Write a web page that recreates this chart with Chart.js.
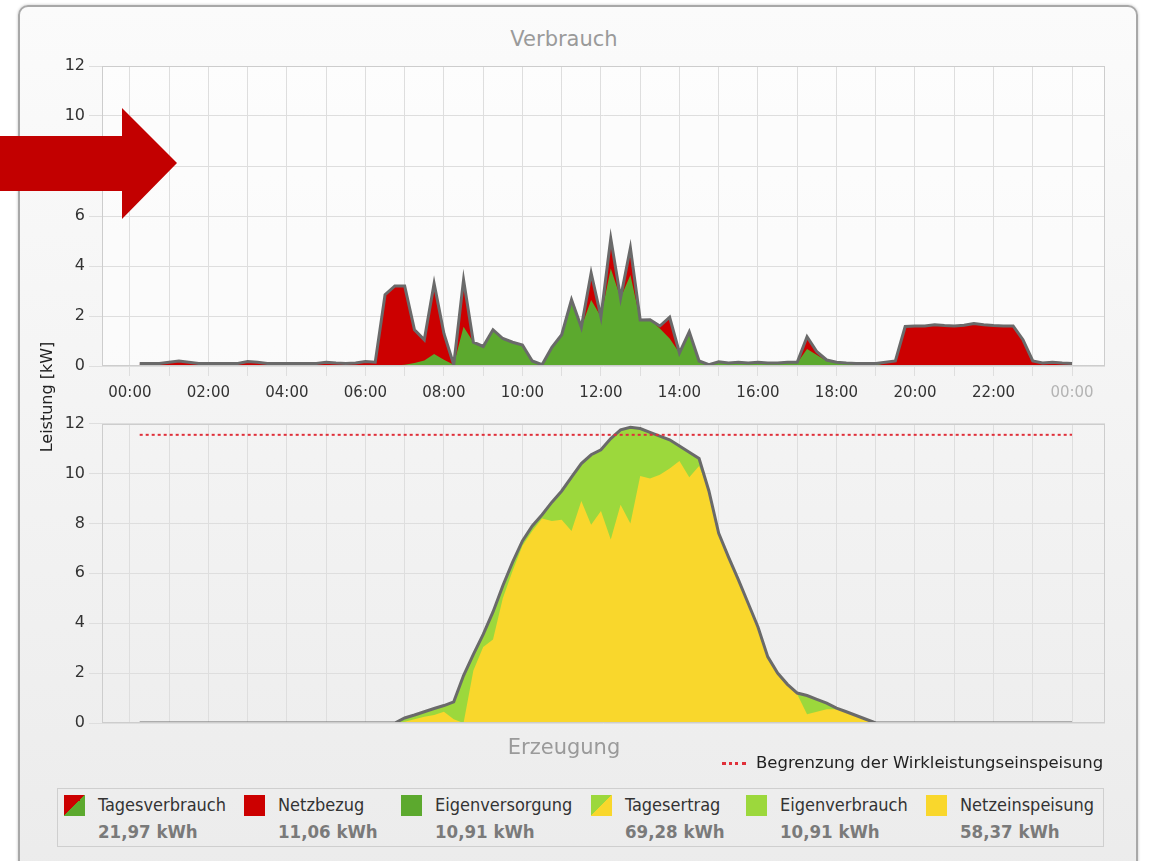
<!DOCTYPE html>
<html>
<head>
<meta charset="utf-8">
<script src="https://cdn.jsdelivr.net/npm/chart.js@4.4.1/dist/chart.umd.min.js"></script>
<style>
html, body { margin:0; padding:0; background:#fff; }
body { width:1155px; height:861px; position:relative; overflow:hidden; font-family:"DejaVu Sans", sans-serif; }
#panel { position:absolute; left:18px; top:5px; width:1116px; height:900px; border:2px solid #a8a8a8; border-radius:10px;
         background:linear-gradient(#fbfbfb, #ebebeb); box-shadow:0 0 3px rgba(0,0,0,.25); }
canvas { position:absolute; left:0; }
#verbrauch { top:0; }
#erzeugung { top:410px; }
.title { position:absolute; left:414px; width:300px; text-align:center; color:#9a9a9a; font-size:21px; }
#ylabel { position:absolute; left:-33px; top:387px; width:160px; height:20px; line-height:20px; text-align:center;
          font-size:16px; color:#222; transform:rotate(-90deg); }
#limit { position:absolute; left:722px; top:753px; font-size:16.5px; color:#222; white-space:nowrap; }
#limit i { display:inline-block; width:24px; border-top:3px dotted #e0303a; vertical-align:middle; margin-right:10px; }
#legend { position:absolute; left:57px; top:788px; width:1045px; height:57px; border:1px solid #cfcfcf; }
.item { position:absolute; top:6px; }
.sw { position:absolute; left:0; top:0; width:21px; height:21px; }
.lab { position:absolute; left:34px; top:-1px; font-family:"DejaVu Sans Condensed","Liberation Sans",sans-serif; font-size:18px; color:#333; white-space:nowrap; }
.val { position:absolute; left:34px; top:26px; font-family:"DejaVu Sans Condensed","Liberation Sans",sans-serif; font-weight:bold; font-size:18.5px; color:#7a7a7a; white-space:nowrap; }
#arrow { position:absolute; left:0; top:0; }
</style>
</head>
<body>
<div id="panel"></div>
<div class="title" style="top:27px">Verbrauch</div>
<canvas id="verbrauch" width="1155" height="410"></canvas>
<canvas id="erzeugung" width="1155" height="370"></canvas>
<div class="title" style="top:735px">Erzeugung</div>
<div id="ylabel">Leistung [kW]</div>
<div id="limit"><i></i>Begrenzung der Wirkleistungseinspeisung</div>
<div id="legend">
  <div class="item" style="left:6px"><span class="sw" style="background:linear-gradient(to bottom right,#cc0000 50%,#5ca92e 50%)"></span><span class="lab">Tagesverbrauch</span><span class="val">21,97 kWh</span></div>
  <div class="item" style="left:186px"><span class="sw" style="background:#cc0000"></span><span class="lab">Netzbezug</span><span class="val">11,06 kWh</span></div>
  <div class="item" style="left:343px"><span class="sw" style="background:#5ca92e"></span><span class="lab">Eigenversorgung</span><span class="val">10,91 kWh</span></div>
  <div class="item" style="left:533px"><span class="sw" style="background:linear-gradient(to bottom right,#9cd83c 50%,#f9d72c 50%)"></span><span class="lab">Tagesertrag</span><span class="val">69,28 kWh</span></div>
  <div class="item" style="left:688px"><span class="sw" style="background:#9cd83c"></span><span class="lab">Eigenverbrauch</span><span class="val">10,91 kWh</span></div>
  <div class="item" style="left:868px"><span class="sw" style="background:#f9d72c"></span><span class="lab">Netzeinspeisung</span><span class="val">58,37 kWh</span></div>
</div>
<svg id="arrow" width="180" height="225"><polygon points="0,136 122,136 122,108 177,163 122,219 122,191 0,191" fill="#c20000"/></svg>

<script>
// Messzeitpunkte: alle 15 Minuten von 00:15 bis 24:00 (Stunden)
const zeiten = Array.from({length: 96}, (_, i) => (i + 1) / 4);
const stunden = [0,1,2,3,4,5,6,7,8,9,10,11,12,13,14,15,16,17,18,19,20,21,22,23,24];
const yWerte = [0,2,4,6,8,10,12];

// Verbrauch [kW]
const tagesverbrauch = [
  0.10,0.10,0.10,0.15, 0.20,0.15,0.10,0.10, 0.10,0.10,0.10,0.18, 0.15,0.10,0.10,0.10,
  0.10,0.10,0.10,0.15, 0.12,0.10,0.12,0.18, 0.15,2.85,3.20,3.20, 1.45,1.05,3.30,1.30,
  0.05,3.45,0.95,0.78, 1.45,1.10,0.95,0.84, 0.20,0.05,0.75,1.25, 2.65,1.55,3.72,1.97,
  5.10,2.72,4.72,1.84, 1.85,1.60,1.95,0.52, 1.37,0.20,0.05,0.17, 0.12,0.15,0.12,0.15,
  0.12,0.12,0.15,0.15, 1.17,0.57,0.24,0.15, 0.12,0.10,0.10,0.10, 0.15,0.20,1.58,1.60,
  1.60,1.65,1.62,1.60, 1.63,1.70,1.65,1.62, 1.60,1.60,1.05,0.20, 0.12,0.15,0.12,0.10
];
const eigenversorgung = [
  0,0,0,0, 0,0,0,0, 0,0,0,0, 0,0,0,0,
  0,0,0,0, 0,0,0,0, 0,0,0.02,0.05, 0.12,0.22,0.48,0.25,
  0.05,1.57,0.95,0.78, 1.45,1.10,0.95,0.84, 0.20,0.05,0.75,1.25, 2.65,1.55,2.64,1.97,
  3.90,2.72,3.64,1.84, 1.85,1.50,1.10,0.52, 1.37,0.20,0.05,0.17, 0.12,0.15,0.12,0.15,
  0.12,0.12,0.15,0.12, 0.68,0.44,0.20,0.12, 0.12,0.10,0.10,0.10, 0,0,0,0,
  0,0,0,0, 0,0,0,0, 0,0,0,0, 0,0,0,0
];

// Erzeugung [kW]
const tagesertrag = [
  0,0,0,0, 0,0,0,0, 0,0,0,0, 0,0,0,0,
  0,0,0,0, 0,0,0,0, 0,0,0,0.20, 0.32,0.45,0.58,0.70,
  0.85,1.90,2.75,3.55, 4.45,5.50,6.45,7.30, 7.90,8.35,8.85,9.30, 9.85,10.40,10.75,10.95,
  11.40,11.75,11.85,11.80, 11.65,11.50,11.35,11.10, 10.85,10.60,9.30,7.60, 6.65,5.75,4.80,3.85,
  2.65,2.00,1.55,1.20, 1.10,0.95,0.80,0.60, 0.45,0.30,0.15,0, 0,0,0,0,
  0,0,0,0, 0,0,0,0, 0,0,0,0, 0,0,0,0
];
const netzeinspeisung = [
  0,0,0,0, 0,0,0,0, 0,0,0,0, 0,0,0,0,
  0,0,0,0, 0,0,0,0, 0,0,0,0.05, 0.15,0.25,0.32,0.45,
  0.15,0,2.10,3.05, 3.35,5.00,6.10,7.10, 7.70,8.20,8.10,8.15, 7.70,8.90,7.95,8.50,
  7.35,8.75,8.00,9.90, 9.80,9.95,10.20,10.50, 9.85,10.30,9.30,7.60, 6.65,5.75,4.80,3.85,
  2.65,2.00,1.55,1.15, 0.35,0.45,0.55,0.55, 0.45,0.30,0.15,0, 0,0,0,0,
  0,0,0,0, 0,0,0,0, 0,0,0,0, 0,0,0,0
];
const begrenzung = 11.55;

const pts = arr => zeiten.map((t, i) => ({x: t, y: arr[i]}));

// Rahmen um die Zeichenfläche
const frame = {
  id: 'frame',
  beforeDraw(chart, args, opts) {
    const {ctx, chartArea: a} = chart;
    ctx.save();
    if (opts.fill) { ctx.fillStyle = opts.fill; ctx.fillRect(a.left, a.top, a.width, a.height); }
    ctx.restore();
  },
  afterDatasetsDraw(chart) {
    const {ctx, chartArea: a} = chart;
    ctx.save();
    ctx.strokeStyle = '#cdcdcd';
    ctx.lineWidth = 1;
    ctx.strokeRect(Math.round(a.left) + 0.5, Math.round(a.top) + 0.5, Math.round(a.width) - 1, Math.round(a.height) - 1);
    ctx.restore();
  }
};

function xAxis(showLabels, h) {
  return {
    type: 'linear', min: -0.71, max: 24.84,
    afterBuildTicks: s => { s.ticks = stunden.map(v => ({value: v})); },
    afterFit: s => { s.height = h; },
    grid: {color: '#dedede', drawTicks: showLabels, tickLength: 10},
    border: {display: false},
    ticks: {
      display: showLabels, autoSkip: false, maxRotation: 0, padding: 8,
      font: {family: 'DejaVu Sans', size: 15},
      color: c => (c.tick && c.tick.value === 24) ? '#b4b4b4' : '#333',
      callback: v => v % 2 === 0 ? String(v % 24).padStart(2, '0') + ':00' : ''
    }
  };
}
function yAxis() {
  return {
    min: 0, max: 12,
    afterBuildTicks: s => { s.ticks = yWerte.map(v => ({value: v})); },
    afterFit: s => { s.width = 102; },
    grid: {color: '#dedede', tickLength: 13},
    border: {display: false},
    ticks: {padding: 4, font: {family: 'DejaVu Sans', size: 16}, color: '#333'}
  };
}
const common = {
  responsive: false, animation: false, devicePixelRatio: 1,
  elements: {point: {radius: 0, hoverRadius: 0}, line: {tension: 0}},
  plugins: {legend: {display: false}, tooltip: {enabled: false}, filler: {drawTime: 'beforeDatasetsDraw'}}
};

new Chart(document.getElementById('verbrauch'), {
  type: 'line',
  data: {datasets: [
    {label: 'Eigenversorgung', data: pts(eigenversorgung), fill: 'origin', backgroundColor: '#5ca92e', borderColor: 'rgba(0,0,0,0)', borderWidth: 1},
    {label: 'Tagesverbrauch', data: pts(tagesverbrauch), fill: 'origin', backgroundColor: '#cc0000', borderColor: '#6a6a6a', borderWidth: 3}
  ]},
  options: {...common,
    layout: {padding: {top: 66, right: 50, left: 0, bottom: 0}},
    plugins: {...common.plugins, frame: {fill: 'rgba(255,255,255,0.55)'}},
    scales: {x: xAxis(true, 44), y: yAxis()}
  },
  plugins: [frame]
});

new Chart(document.getElementById('erzeugung'), {
  type: 'line',
  data: {datasets: [
    {label: 'Begrenzung der Wirkleistungseinspeisung', data: [{x: zeiten[0], y: begrenzung}, {x: zeiten[zeiten.length - 1], y: begrenzung}],
     fill: false, borderColor: '#e0303a', borderWidth: 2, borderDash: [3, 3]},
    {label: 'Netzeinspeisung', data: pts(netzeinspeisung), fill: 'origin', backgroundColor: '#f9d72c', borderColor: 'rgba(0,0,0,0)', borderWidth: 1},
    {label: 'Tagesertrag', data: pts(tagesertrag), fill: 'origin', backgroundColor: '#9cd83c', borderColor: '#6a6a6a', borderWidth: 3}
  ]},
  options: {...common,
    layout: {padding: {top: 13, right: 50, left: 0, bottom: 0}},
    plugins: {...common.plugins, frame: {}},
    scales: {x: xAxis(false, 57), y: yAxis()}
  },
  plugins: [frame]
});
</script>
</body>
</html>
